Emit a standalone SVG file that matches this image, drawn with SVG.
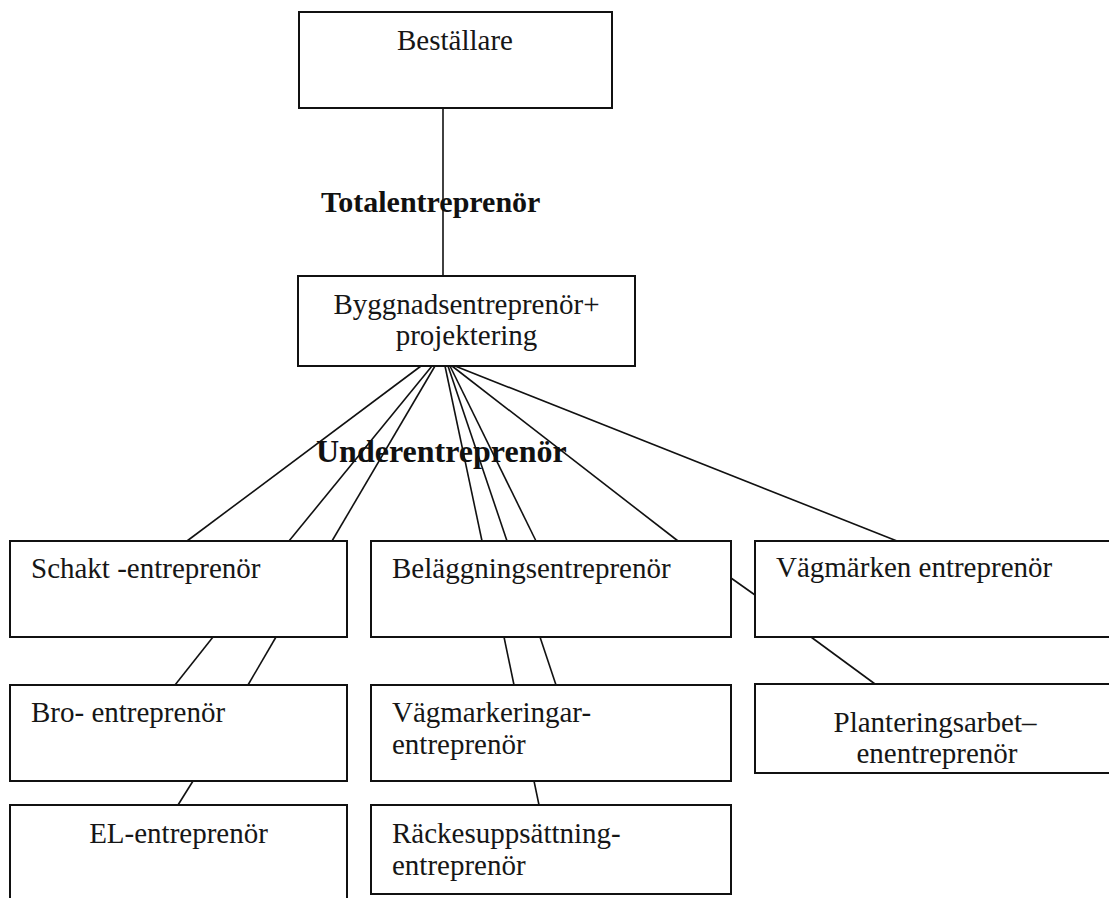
<svg xmlns="http://www.w3.org/2000/svg" width="1109" height="898" viewBox="0 0 1109 898">
<style>
.box{fill:#fff;stroke:#111;stroke-width:2}
.t{font-family:"Liberation Serif","Times New Roman",serif;font-size:29px;fill:#161616}
.c{text-anchor:middle}
.lbl{font-family:"Liberation Serif","Times New Roman",serif;font-weight:bold;fill:#111}
.ln{stroke:#111;stroke-width:1.6;fill:none}
</style>
<rect width="1109" height="898" fill="#fff"/>
<g id="label-total"><text class="lbl" x="321" y="212" font-size="30">Totalentreprenör</text></g>
<g id="label-under"><text class="lbl" x="316" y="462" font-size="32" fill="#2a2a2a">Underentreprenör</text></g>
<g id="connectors">
<line class="ln" x1="443" y1="108" x2="443" y2="276"/>
<line class="ln" x1="421" y1="366" x2="187" y2="541"/>
<line class="ln" x1="432" y1="366" x2="289" y2="541"/>
<line class="ln" x1="435" y1="366" x2="332" y2="541"/>
<line class="ln" x1="445" y1="366" x2="482" y2="541"/>
<line class="ln" x1="448" y1="366" x2="507" y2="541"/>
<line class="ln" x1="450" y1="366" x2="536" y2="541"/>
<line class="ln" x1="452" y1="366" x2="678" y2="541"/>
<line class="ln" x1="455" y1="366" x2="897" y2="541"/>
<line class="ln" x1="213" y1="637" x2="175" y2="685"/>
<line class="ln" x1="276" y1="637" x2="248" y2="685"/>
<line class="ln" x1="193" y1="781" x2="178" y2="805"/>
<line class="ln" x1="504" y1="637" x2="514" y2="685"/>
<line class="ln" x1="540" y1="637" x2="556" y2="685"/>
<line class="ln" x1="534" y1="781" x2="539" y2="805"/>
<line class="ln" x1="731" y1="578" x2="755" y2="595"/>
<line class="ln" x1="811" y1="637" x2="875" y2="684"/>
</g>
<g id="bestallare"><rect class="box" x="299" y="12" width="313" height="96"/><text class="t c" x="455" y="50">Beställare</text></g>
<g id="byggnad"><rect class="box" x="298" y="276" width="337" height="90"/><text class="t c" x="466.5" y="314">Byggnadsentreprenör+</text><text class="t c" x="466.5" y="345">projektering</text></g>
<g id="schakt"><rect class="box" x="10" y="541" width="337" height="96"/><text class="t" x="31" y="578">Schakt -entreprenör</text></g>
<g id="belaggning"><rect class="box" x="371" y="541" width="360" height="96"/><text class="t" x="392" y="578">Beläggningsentreprenör</text></g>
<g id="vagmarken"><rect class="box" x="755" y="541" width="360" height="96"/><text class="t" x="776" y="577">Vägmärken entreprenör</text></g>
<g id="bro"><rect class="box" x="10" y="685" width="337" height="96"/><text class="t" x="31" y="722">Bro- entreprenör</text></g>
<g id="vagmarkeringar"><rect class="box" x="371" y="685" width="360" height="96"/><text class="t" x="392" y="722">Vägmarkeringar-</text><text class="t" x="392" y="754">entreprenör</text></g>
<g id="plantering"><rect class="box" x="755" y="684" width="360" height="89"/><text class="t c" x="935" y="732">Planteringsarbet–</text><text class="t c" x="937" y="763">enentreprenör</text></g>
<g id="el"><rect class="box" x="10" y="805" width="337" height="100"/><text class="t c" x="178.5" y="843">EL-entreprenör</text></g>
<g id="rackes"><rect class="box" x="371" y="805" width="360" height="89"/><text class="t" x="392" y="843">Räckesuppsättning-</text><text class="t" x="392" y="875">entreprenör</text></g>
</svg>
